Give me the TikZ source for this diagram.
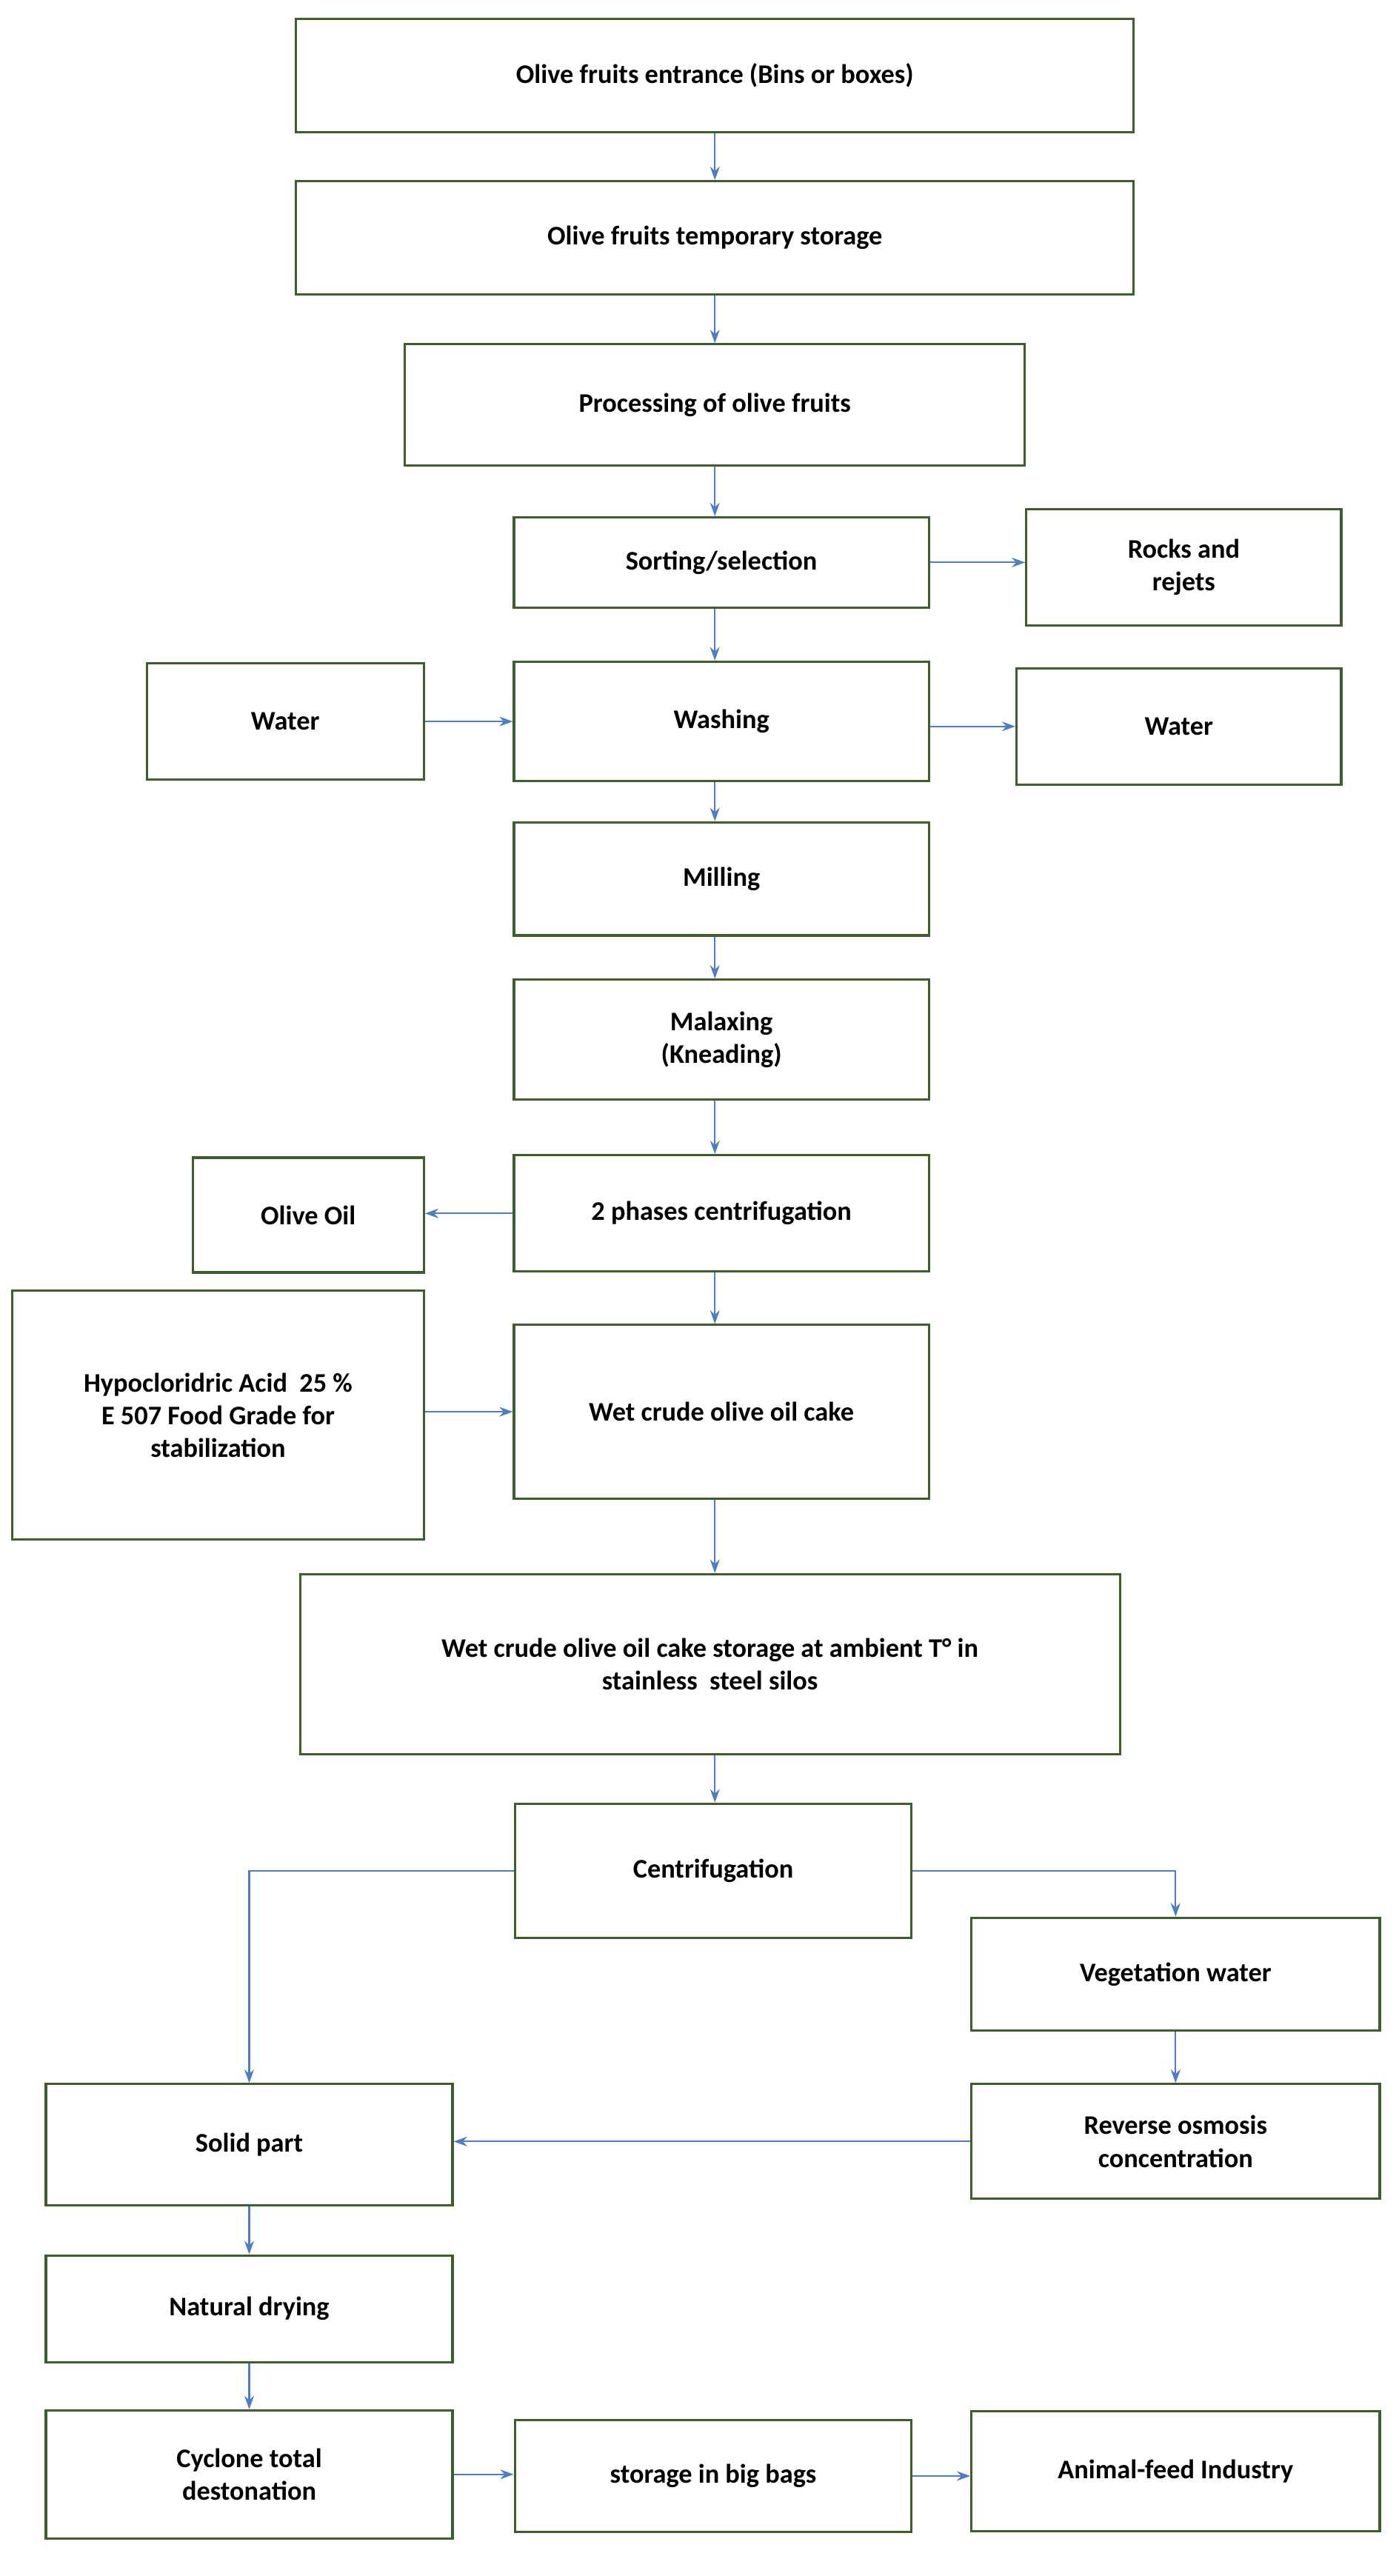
\documentclass[tikz,border=0pt]{standalone}
\usepackage{fontspec}
\setmainfont{Carlito}
\usetikzlibrary{arrows.meta}
\definecolor{boxgreen}{HTML}{3B5E2B}
\definecolor{arrowblue}{HTML}{4A7EC7}
\begin{document}
\begin{tikzpicture}[x=0.03cm, y=-0.03cm, >={Stealth[length=7pt,width=5pt]},
  font=\fontsize{14}{17}\selectfont\bfseries]
\tikzstyle{box}=[draw=boxgreen, line width=1.2pt, align=center, inner sep=2pt]
\tikzstyle{flow}=[->, draw=arrowblue, line width=0.8pt]
\useasboundingbox (0,0) rectangle (853,1571);

\node[box, minimum width=15.33cm, minimum height=2.07cm] (entr) at (436,46) {Olive fruits entrance (Bins or boxes)};
\node[box, minimum width=15.33cm, minimum height=2.07cm] (temp) at (436,145) {Olive fruits temporary storage};
\node[box, minimum width=11.34cm, minimum height=2.22cm] (proc) at (436,247) {Processing of olive fruits};
\node[box, minimum width=7.59cm, minimum height=1.65cm] (sort) at (440,343) {Sorting/selection};
\node[box, minimum width=5.76cm, minimum height=2.13cm] (rock) at (722,346) {Rocks and\\rejets};
\node[box, minimum width=5.07cm, minimum height=2.13cm] (win) at (174,440) {Water};
\node[box, minimum width=7.59cm, minimum height=2.19cm] (wash) at (440,440) {Washing};
\node[box, minimum width=5.94cm, minimum height=2.13cm] (wout) at (719,443) {Water};
\node[box, minimum width=7.59cm, minimum height=2.07cm] (mill) at (440,536) {Milling};
\node[box, minimum width=7.59cm, minimum height=2.19cm] (malax) at (440,634) {Malaxing\\(Kneading)};
\node[box, minimum width=7.59cm, minimum height=2.13cm] (cent2) at (440,740) {2 phases centrifugation};
\node[box, minimum width=4.23cm, minimum height=2.10cm] (oil) at (188,741) {Olive Oil};
\node[box, minimum width=7.53cm, minimum height=4.56cm] (acid) at (133,863) {Hypocloridric Acid\ \ 25 \%\\E 507 Food Grade for\\stabilization};
\node[box, minimum width=7.59cm, minimum height=3.18cm] (cake) at (440,861) {Wet crude olive oil cake};
\node[box, minimum width=15cm, minimum height=3.30cm] (silo) at (433,1015) {Wet crude olive oil cake storage at ambient T° in\\stainless\ \ steel silos};
\node[box, minimum width=7.26cm, minimum height=2.46cm] (cent) at (435,1141) {Centrifugation};
\node[box, minimum width=7.47cm, minimum height=2.07cm] (veg) at (717,1204) {Vegetation water};
\node[box, minimum width=7.44cm, minimum height=2.22cm] (solid) at (152,1308) {Solid part};
\node[box, minimum width=7.47cm, minimum height=2.10cm] (osmo) at (717,1306) {Reverse osmosis\\concentration};
\node[box, minimum width=7.44cm, minimum height=1.95cm] (dry) at (152,1408) {Natural drying};
\node[box, minimum width=7.44cm, minimum height=2.34cm] (cycl) at (152,1509) {Cyclone total\\destonation};
\node[box, minimum width=7.26cm, minimum height=2.04cm] (bags) at (435,1510) {storage in big bags};
\node[box, minimum width=7.47cm, minimum height=2.19cm] (feed) at (717,1507) {Animal-feed Industry};

\draw[flow] (entr) -- (temp);
\draw[flow] (temp) -- (proc);
\draw[flow] (proc.south) -- (proc.south |- sort.north);
\draw[flow] (sort.east) -- (sort.east -| rock.west);
\draw[flow] (sort.south -| proc.south) -- (proc.south |- wash.north);
\draw[flow] (win.east) -- (win.east -| wash.west);
\draw[flow] (wash.east |- wout.west) -- (wout.west);
\draw[flow] (wash.south -| proc.south) -- (proc.south |- mill.north);
\draw[flow] (mill.south -| proc.south) -- (proc.south |- malax.north);
\draw[flow] (malax.south -| proc.south) -- (proc.south |- cent2.north);
\draw[flow] (cent2.west) -- (cent2.west -| oil.east);
\draw[flow] (cent2.south -| proc.south) -- (proc.south |- cake.north);
\draw[flow] (acid.east |- cake.west) -- (cake.west);
\draw[flow] (cake.south -| proc.south) -- (proc.south |- silo.north);
\draw[flow] (silo.south -| proc.south) -- (proc.south |- cent.north);
\draw[flow] (cent.west) -| (solid.north);
\draw[flow] (cent.east) -| (veg.north);
\draw[flow] (veg) -- (osmo);
\draw[flow] (osmo.west) -- (osmo.west -| solid.east);
\draw[flow] (solid) -- (dry);
\draw[flow] (dry) -- (cycl);
\draw[flow] (cycl.east) -- (cycl.east -| bags.west);
\draw[flow] (bags.east) -- (bags.east -| feed.west);
\end{tikzpicture}
\end{document}
